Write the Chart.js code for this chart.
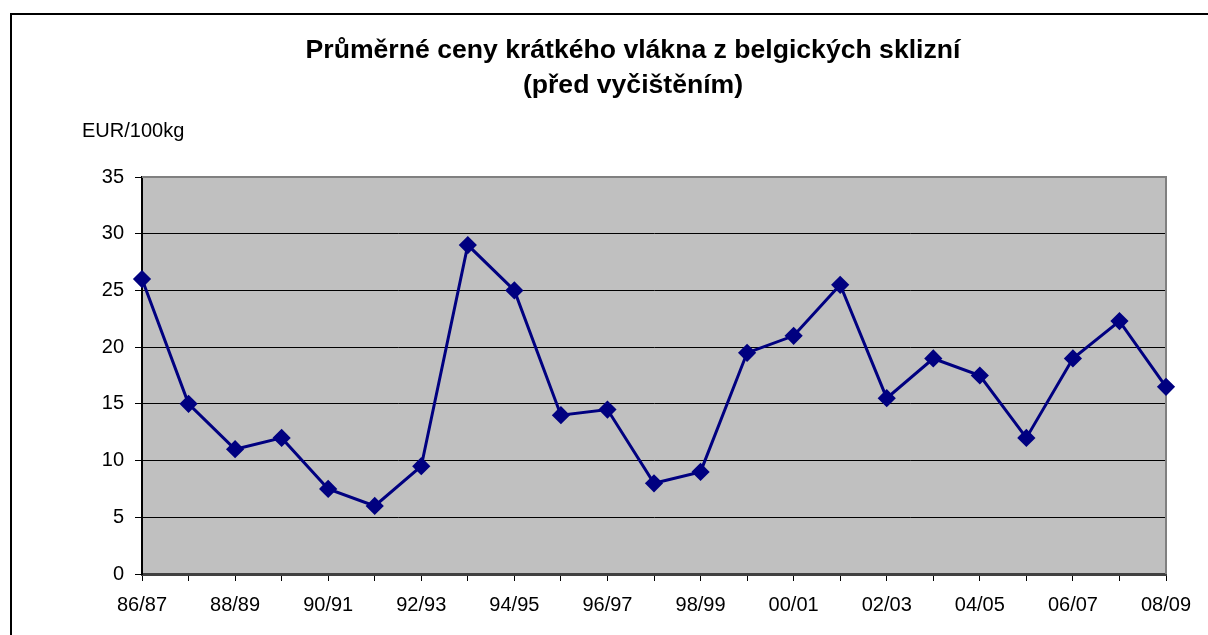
<!DOCTYPE html>
<html>
<head>
<meta charset="utf-8">
<script src="https://cdn.jsdelivr.net/npm/chart.js@4/dist/chart.umd.min.js"></script>
<style>
  html, body { margin: 0; padding: 0; background: #fff; overflow: hidden; }
  #wrap { position: relative; width: 1208px; height: 635px; }
  #frame { position: absolute; left: 10px; top: 13px; width: 1300px; height: 700px;
           border-left: 2px solid #000; border-top: 2px solid #000; }
  canvas { position: absolute; left: 0; top: 0; }
</style>
</head>
<body>
<div id="wrap">
  <div id="frame"></div>
  <canvas id="chart" width="1208" height="635"></canvas>
</div>
<script>
// sklizně (harvest years)
const seasons = [
    '86/87', '87/88', '88/89', '89/90', '90/91', '91/92', '92/93', '93/94',
    '94/95', '95/96', '96/97', '97/98', '98/99', '99/00', '00/01', '01/02',
    '02/03', '03/04', '04/05', '05/06', '06/07', '07/08', '08/09'
];
// EUR/100kg
const prices = [
    26, 15, 11, 12, 7.5, 6, 9.5, 29,
    25, 14, 14.5, 8, 9, 19.5, 21, 25.5,
    15.5, 19, 17.5, 12, 19, 22.3, 16.5
];
const titleLines = ['Průměrné ceny krátkého vlákna z belgických sklizní', '(před vyčištěním)'];
const unitLabel = 'EUR/100kg';

const FONT = "'Liberation Sans', Arial, sans-serif";

// pozadí grafu + šedý rámeček nahoře a vpravo
const plotArea = {
    id: 'plotArea',
    beforeDraw(chart) {
        const { ctx, chartArea: a } = chart;
        ctx.save();
        ctx.fillStyle = '#c0c0c0';
        ctx.fillRect(a.left, a.top, a.right - a.left, a.bottom - a.top);
        ctx.restore();
    },
    beforeDatasetsDraw(chart) {
        const { ctx, chartArea: a } = chart;
        ctx.save();
        ctx.strokeStyle = '#808080';
        ctx.lineWidth = 2;
        ctx.beginPath();
        ctx.moveTo(a.left, a.top);
        ctx.lineTo(a.right, a.top);
        ctx.lineTo(a.right, a.bottom);
        ctx.stroke();
        ctx.restore();
    }
};

const texts = {
    id: 'texts',
    afterDraw(chart) {
        const ctx = chart.ctx;
        ctx.save();
        ctx.fillStyle = '#000';
        ctx.textAlign = 'center';
        ctx.textBaseline = 'middle';
        ctx.font = 'bold 26.6px ' + FONT;
        ctx.fillText(titleLines[0], 633, 51);
        ctx.fillText(titleLines[1], 633, 86);
        ctx.textAlign = 'left';
        ctx.font = '20px ' + FONT;
        ctx.fillText(unitLabel, 82, 131);
        ctx.restore();
    }
};

new Chart(document.getElementById('chart'), {
    type: 'line',
    data: {
        labels: seasons,
        datasets: [{
            data: prices,
            borderColor: '#000080',
            backgroundColor: '#000080',
            borderWidth: 3,
            pointStyle: 'rectRot',
            pointRadius: 7,
            pointHoverRadius: 7,
            tension: 0,
            clip: false
        }]
    },
    options: {
        responsive: false,
        animation: false,
        layout: { padding: { top: 177, right: 42, left: 0, bottom: 0 } },
        plugins: {
            legend: { display: false },
            tooltip: { enabled: false }
        },
        scales: {
            x: {
                offset: false,
                afterFit: (s) => { s.height = 61; },
                grid: {
                    drawOnChartArea: false,
                    drawTicks: true,
                    tickLength: 7,
                    color: '#000',
                    lineWidth: 1
                },
                border: { color: '#404040', width: 3 },
                ticks: {
                    autoSkip: false,
                    maxRotation: 0,
                    padding: 12,
                    color: '#000',
                    font: { family: FONT, size: 20 },
                    callback: (v, i) => (i % 2 === 0 ? seasons[i] : '')
                }
            },
            y: {
                min: 0,
                max: 35,
                afterFit: (s) => { s.width = 142; },
                grid: {
                    color: (c) => (c.tick.value === 35 ? 'rgba(0,0,0,0)' : '#000'),
                    lineWidth: 1,
                    tickLength: 7,
                    tickColor: '#000'
                },
                border: { color: '#000', width: 2 },
                ticks: {
                    stepSize: 5,
                    padding: 11,
                    color: '#000',
                    font: { family: FONT, size: 20 }
                }
            }
        }
    },
    plugins: [plotArea, texts]
});
</script>
</body>
</html>
